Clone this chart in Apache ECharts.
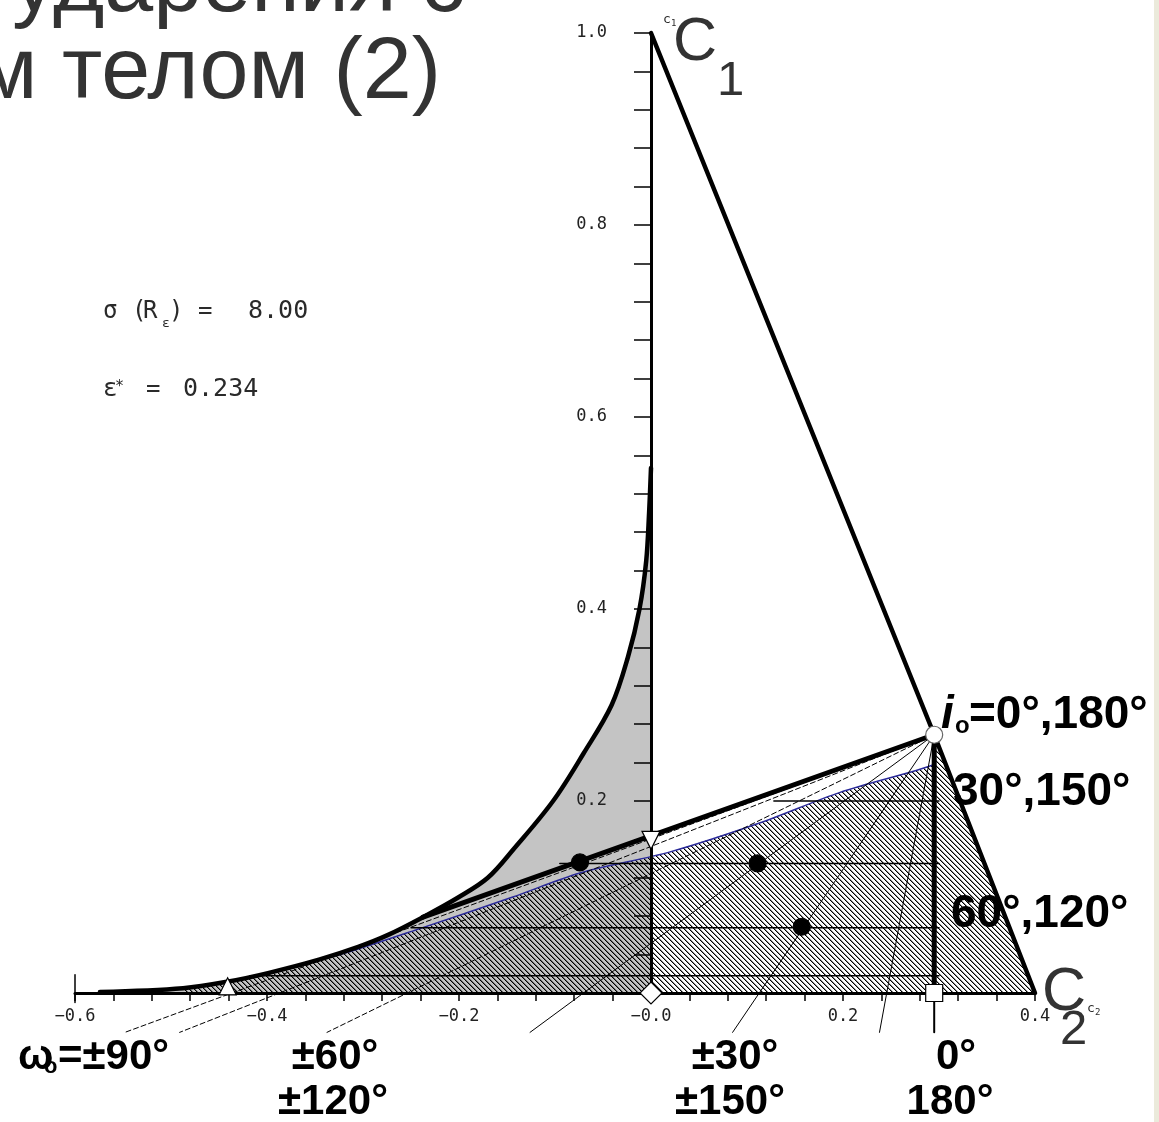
<!DOCTYPE html>
<html>
<head>
<meta charset="utf-8">
<script src="https://cdn.jsdelivr.net/npm/echarts@6/dist/echarts.min.js"></script>
<style>
  html, body { margin: 0; padding: 0; background: #ffffff; }
  #chart { width: 1159px; height: 1122px; }
</style>
</head>
<body>
<div id="chart"></div>
<script>
// Key points of the diagram (data units on both axes)
const C1 = [0, 1.0];
const C2 = [0.4, 0];
const I0 = [0.295, 0.269];          // i0 = 0°, 180°
const I0Foot = [0.295, 0];
const thickEnd = [-0.2375, 0.079];

// Left boundary of the grey region
const boundaryX = [0, -0.002, -0.005, -0.012, -0.024, -0.041, -0.070, -0.102, -0.143, -0.170, -0.200, -0.2375, -0.275, -0.305, -0.345, -0.398, -0.440, -0.4875, -0.574];
const boundaryY = [0.547, 0.500, 0.450, 0.400, 0.350, 0.300, 0.250, 0.200, 0.150, 0.120, 0.100, 0.079, 0.060, 0.048, 0.035, 0.021, 0.012, 0.005, 0.001];

// Blue upper edge of the hatched region
const blueX = [0.295, 0.277, 0.197, 0.113, 0.020, -0.074, -0.144, -0.244, -0.314, -0.352];
const blueY = [0.238, 0.232, 0.209, 0.177, 0.147, 0.125, 0.100, 0.066, 0.043, 0.033];

// Horizontal level lines inside the hatched region
const levelY = [0.200, 0.135, 0.068, 0.018];
const levelX0 = [0.128, -0.095, -0.250, -0.418];
const levelX1 = [0.300, 0.300, 0.300, 0.300];

// Fan of omega0 lines from i0 (end points below the axis)
const fanEndX = [-0.548, -0.491, -0.3375, -0.126, 0.085, 0.238];
const fanEndY = [-0.041, -0.041, -0.041, -0.041, -0.041, -0.041];
const fanDashed = [true, true, true, false, false, false];

// Filled points
const dotX = [-0.074, 0.111, 0.157];
const dotY = [0.136, 0.135, 0.069];

// Open markers
const squarePt = [0.295, 0];
const upTrianglePt = [-0.441, 0.007];
const diamondPt = [0, 0];
const downTrianglePt = [0, 0.159];

// Axis ranges and tick labels
const xRange = [-0.6, 0.4];
const yRange = [0, 1.0];
const xTickLabels = ['\u22120.6', '\u22120.4', '\u22120.2', '\u22120.0', '0.2', '0.4'];
const yTickLabels = ['', '0.2', '0.4', '0.6', '0.8', '1.0'];

const GRID = { left: 75, top: 33, width: 960, height: 960 };

// Diagonal hatch tile (lines running top-left to bottom-right)
const tile = document.createElement('canvas');
tile.width = 5; tile.height = 5;
const tg = tile.getContext('2d');
for (let i = 0; i < 5; i++) {
  tg.fillStyle = '#000';
  tg.fillRect(i, i, 1, 1);
  tg.fillStyle = 'rgba(0,0,0,0.45)';
  tg.fillRect((i + 1) % 5, i, 1, 1);
}
const hatchFill = { image: tile, repeat: 'repeat' };

const zip = (xs, ys) => xs.map((x, i) => [x, ys[i]]);

function polygonSeries(points, fill, z) {
  return {
    type: 'custom', coordinateSystem: 'cartesian2d', z: z, silent: true, animation: false,
    data: [[0, 0]],
    renderItem: (params, api) => ({
      type: 'polygon',
      shape: { points: points.map(p => api.coord(p)) },
      style: { fill: fill, stroke: null }
    })
  };
}

function lineSeries(points, color, width, dash, z, smooth) {
  return {
    type: 'line', data: points, symbol: 'none', showSymbol: false, clip: false,
    silent: true, animation: false, z: z, smooth: smooth || false,
    lineStyle: { color: color, width: width, type: dash || 'solid', cap: 'round', join: 'round' }
  };
}

function markerSeries(points, symbol, size, fill, stroke, rotate) {
  return {
    type: 'scatter', data: points, symbol: symbol, symbolSize: size, symbolRotate: rotate || 0,
    silent: true, animation: false, z: 20, clip: false,
    itemStyle: { color: fill, borderColor: stroke, borderWidth: 1.2, opacity: 1 }
  };
}

const boundary = zip(boundaryX, boundaryY);
const blue = zip(blueX, blueY);

const greyPolygon = boundary.concat([[-0.6, 0], [0, 0]]);
const hatchPolygon = blue
  .concat(boundary.filter(p => p[0] < -0.36 && p[0] >= -0.49))
  .concat([[-0.4875, 0], C2, I0]);

const series = [
  polygonSeries(greyPolygon, '#c4c4c4', 1),
  polygonSeries(hatchPolygon, hatchFill, 2),
  lineSeries(blue, '#2a2a9a', 1.5, null, 4, 0.3)
];

levelY.forEach((y, i) => series.push(lineSeries([[levelX0[i], y], [levelX1[i], y]], '#000', 1.5, null, 5)));
fanEndX.forEach((x, i) => series.push(lineSeries([I0, [x, fanEndY[i]]], '#000', 1, fanDashed[i] ? [5, 3] : null, 5)));

series.push(lineSeries([I0, [0.295, -0.041]], '#000', 2, null, 6));
series.push(lineSeries([[-0.6, -0.01], [-0.6, 0.019]], '#000', 1.5, null, 6));
series.push(lineSeries(boundary, '#000', 4.5, null, 7, 0.35));
series.push(lineSeries([C1, I0, C2], '#000', 4.5, null, 8));
series.push(lineSeries([I0, I0Foot], '#000', 5, null, 8));
series.push(lineSeries([I0, thickEnd], '#000', 5, null, 8));

series.push(markerSeries(zip(dotX, dotY), 'circle', 17, '#000', '#000'));
series.push(markerSeries([I0], 'circle', 17, '#fff', '#666'));
series.push(markerSeries([squarePt], 'rect', 17, '#fff', '#000'));
series.push(markerSeries([upTrianglePt], 'triangle', 17, '#fff', '#000'));
series.push(markerSeries([downTrianglePt], 'triangle', 18, '#fff', '#000', 180));
series.push(markerSeries([diamondPt], 'diamond', 22, '#fff', '#000'));

const sansFont = 'Liberation Sans, Arial, sans-serif';
const monoFont = 'DejaVu Sans Mono, monospace';

// Text placed by its baseline
function txt(x, baseline, text, size, opts) {
  opts = opts || {};
  const family = opts.family || sansFont;
  const asc = family === monoFont ? 0.8 : 0.81;
  return {
    type: 'text', x: x, y: baseline - asc * size, z: 100, silent: true,
    style: {
      text: text, fill: opts.fill || '#000', fontSize: size,
      fontFamily: family, fontWeight: opts.weight || 'normal', fontStyle: opts.style || 'normal',
      align: opts.align || 'left', verticalAlign: 'top'
    }
  };
}

const bold = { weight: 'bold', align: 'center' };
const boldL = { weight: 'bold' };
const slideR = { fill: '#333333', align: 'right' };
const slide = { fill: '#333333' };
const mono = { family: monoFont, fill: '#2a2a2a' };

const graphic = [
  // slide heading
  txt(465, 14, 'ударения с', 88, slideR),
  txt(441, 101, 'м телом (2)', 88, slideR),
  // corner names
  txt(673, 62, 'C', 61, slide),
  txt(717, 97, '1', 49, slide),
  txt(1042, 1012, 'C', 61, slide),
  txt(1060, 1046, '2', 49, slide),
  txt(663, 24, 'c', 13, mono),
  txt(671, 26, '1', 9, mono),
  txt(1087, 1013, 'c', 13, mono),
  txt(1095, 1015, '2', 9, mono),
  // parameters
  txt(103, 319, 'σ', 24, mono),
  txt(132, 319, '(', 24, mono),
  txt(143, 319, 'R', 24, mono),
  txt(162, 328, 'ε', 13, mono),
  txt(169, 319, ')', 24, mono),
  txt(198, 319, '=', 24, mono),
  txt(248, 319, '8.00', 25, mono),
  txt(103, 397, 'ε', 24, mono),
  txt(115, 392, '*', 15, mono),
  txt(146, 397, '=', 24, mono),
  txt(183, 397, '0.234', 25, mono),
  // inclination labels
  txt(941, 730, 'i', 46, { weight: 'bold', style: 'italic' }),
  txt(955, 734, 'o', 24, boldL),
  txt(969, 730, '=0°,180°', 46, boldL),
  txt(953, 807, '30°,150°', 46, boldL),
  txt(951, 929, '60°,120°', 46, boldL),
  // omega labels
  txt(18, 1070, 'ω', 42, boldL),
  txt(44, 1074, 'o', 22, boldL),
  txt(58, 1070, '=±90°', 42, boldL),
  txt(335, 1070, '±60°', 42, bold),
  txt(333, 1115, '±120°', 42, bold),
  txt(735, 1070, '±30°', 42, bold),
  txt(730, 1115, '±150°', 42, bold),
  txt(956, 1070, '0°', 42, bold),
  txt(950, 1115, '180°', 42, bold),
  // right margin strip
  { type: 'rect', z: 99, silent: true, shape: { x: 1154, y: 0, width: 5, height: 1122 }, style: { fill: '#ebeadb' } }
];

const axisTextStyle = { color: '#222', fontSize: 17, fontFamily: monoFont };

// The vertical axis sits at x = 0 of the horizontal axis
const yAxisOffset = -(0 - xRange[0]) / (xRange[1] - xRange[0]) * GRID.width;

const option = {
  backgroundColor: '#ffffff',
  animation: false,
  grid: Object.assign({ containLabel: false }, GRID),
  xAxis: {
    type: 'value', min: xRange[0], max: xRange[1], interval: 0.2, z: 10,
    axisLine: { onZero: true, lineStyle: { color: '#000', width: 3 } },
    axisTick: { show: true, inside: false, length: 8, lineStyle: { color: '#000', width: 1.5 } },
    minorTick: { show: true, splitNumber: 5, length: 8, lineStyle: { color: '#000', width: 1.5 } },
    splitLine: { show: false },
    axisLabel: Object.assign({ margin: 15, formatter: v => xTickLabels[Math.round((v - xRange[0]) / 0.2)] }, axisTextStyle)
  },
  yAxis: {
    type: 'value', min: yRange[0], max: yRange[1], interval: 0.2, z: 10,
    position: 'left', offset: yAxisOffset,
    axisLine: { onZero: false, lineStyle: { color: '#000', width: 3 } },
    axisTick: { show: true, inside: false, length: 17, lineStyle: { color: '#000', width: 1.5 } },
    minorTick: { show: true, splitNumber: 5, length: 17, lineStyle: { color: '#000', width: 1.5 } },
    splitLine: { show: false },
    axisLabel: Object.assign({ margin: 44, padding: [0, 0, 10, 0], formatter: v => yTickLabels[Math.round(v / 0.2)] }, axisTextStyle)
  },
  series: series,
  graphic: graphic
};

const chart = echarts.init(document.getElementById('chart'), null, { renderer: 'canvas' });
chart.setOption(option);
</script>
</body>
</html>
